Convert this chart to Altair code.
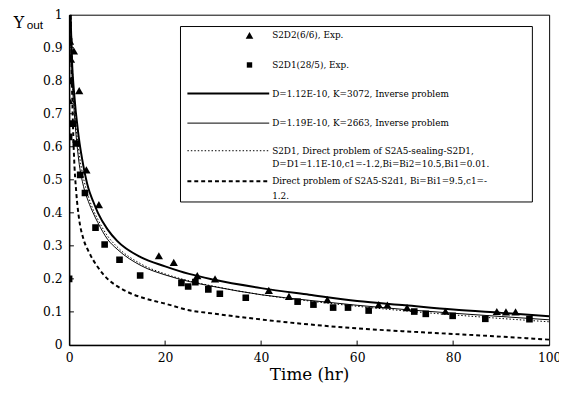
import altair as alt
import pandas as pd

# ---------------- data ----------------
tri_x = [0.0, 0.0, 0.4, 1.0, 0.2, 2.1, 3.6, 6.2, 18.7, 21.8, 26.7, 30.4, 41.6, 45.8,
         53.8, 64.5, 66.3, 70.4, 78.4, 89.1, 91.0, 93.0]
tri_y = [0.74, 0.80, 0.865, 0.89, 0.92, 0.77, 0.53, 0.425, 0.27, 0.25, 0.21, 0.20, 0.165,
         0.147, 0.137, 0.122, 0.121, 0.113, 0.102, 0.101, 0.10, 0.10]

sq_x = [0.0, 0.0, 0.0, 0.0, 0.0, 0.8, 1.4, 2.3, 3.3, 5.5, 7.4, 10.5, 14.8, 23.4, 24.8,
        26.3, 29.0, 31.4, 36.8, 47.6, 50.9, 55.0, 58.1, 62.4, 71.9, 74.3, 79.9, 86.7, 95.9]
sq_y = [0.20, 0.63, 0.80, 0.87, 0.92, 0.67, 0.61, 0.515, 0.46, 0.355, 0.304, 0.258, 0.21,
        0.188, 0.177, 0.19, 0.168, 0.155, 0.143, 0.131, 0.122, 0.113, 0.113, 0.104, 0.101,
        0.094, 0.088, 0.079, 0.078]

thick_x = [0.3, 0.6, 1, 2, 3, 4, 5, 6, 8, 10, 15, 20, 25, 30, 40, 50, 60, 70, 80, 90, 100]
thick_y = [1.0, 0.86, 0.77, 0.63, 0.54, 0.475, 0.435, 0.40, 0.35, 0.315, 0.265, 0.238,
           0.215, 0.198, 0.172, 0.152, 0.133, 0.12, 0.107, 0.097, 0.087]

thin_x = [0.3, 0.6, 1, 2, 3, 4, 5, 6, 8, 10, 15, 20, 25, 30, 40, 50, 60, 70, 80, 90, 100]
thin_y = [1.0, 0.82, 0.72, 0.56, 0.48, 0.435, 0.40, 0.37, 0.32, 0.29, 0.24, 0.212, 0.192,
          0.177, 0.152, 0.135, 0.12, 0.107, 0.096, 0.086, 0.076]

dot_x = [0.4, 0.7, 1, 2, 3, 4, 5, 6, 8, 10, 15, 20, 25, 30, 40, 50, 60, 70, 80, 90, 100]
dot_y = [1.0, 0.84, 0.75, 0.59, 0.505, 0.45, 0.41, 0.38, 0.33, 0.297, 0.245, 0.215, 0.194,
         0.178, 0.152, 0.133, 0.117, 0.103, 0.091, 0.08, 0.07]

dash_x = [0.3, 0.6, 1, 1.5, 2, 3, 4, 6, 8, 10, 13, 16, 20, 25, 30, 40, 50, 60, 70, 80, 90, 100]
dash_y = [1.0, 0.78, 0.58, 0.46, 0.39, 0.32, 0.285, 0.235, 0.20, 0.178, 0.155, 0.14, 0.125,
          0.105, 0.095, 0.077, 0.062, 0.05, 0.041, 0.033, 0.025, 0.016]

x_ticks = [0, 20, 40, 60, 80, 100]
y_ticks = [0, 0.1, 0.2, 0.3, 0.4, 0.5, 0.6, 0.7, 0.8, 0.9, 1]

legend_rows = [
    "S2D2(6/6), Exp.",
    "S2D1(28/5), Exp.",
    "D=1.12E-10, K=3072, Inverse problem",
    "D=1.19E-10, K=2663, Inverse problem",
    "S2D1, Direct problem of S2A5-sealing-S2D1,",
    "D=D1=1.1E-10,c1=-1.2,Bi=Bi2=10.5,Bi1=0.01.",
    "Direct problem of S2A5-S2d1, Bi=Bi1=9.5,c1=-",
    "1.2.",
]

# ---------------- styling ----------------
FONT = "DejaVu Serif"
W, H = 487, 335
xs = alt.Scale(domain=[0, 100], nice=False, zero=False)
ys = alt.Scale(domain=[0, 1], nice=False, zero=False)

xaxis = alt.Axis(values=x_ticks, ticks=False, grid=False, domainColor="black", domainWidth=1.5,
                 labelFont=FONT, labelFontSize=12.5, labelColor="black", labelPadding=7,
                 format="d", title="Time (hr)", titleFont=FONT, titleFontSize=17,
                 titleFontWeight="normal", titleColor="black", titlePadding=3,
                 labelFlush=False)
yaxis = alt.Axis(values=y_ticks, ticks=False, grid=False, domainColor="black", domainWidth=1.5,
                 labelFont=FONT, labelFontSize=12.5, labelColor="black", labelPadding=7,
                 format="~g", title=None, labelFlush=False)


def line_layer(xv, yv, width, dash=None):
    df = pd.DataFrame({"t": xv, "y": yv})
    kw = dict(color="black", strokeWidth=width, clip=True, interpolate="monotone")
    if dash:
        kw["strokeDash"] = dash
    return alt.Chart(df).mark_line(**kw).encode(
        x=alt.X("t:Q", scale=xs, axis=xaxis),
        y=alt.Y("y:Q", scale=ys, axis=yaxis),
    )


def point_layer(xv, yv, shape, size):
    df = pd.DataFrame({"t": xv, "y": yv})
    return alt.Chart(df).mark_point(shape=shape, filled=True, color="black", opacity=1,
                                    size=size, clip=True).encode(
        x=alt.X("t:Q", scale=xs, axis=xaxis),
        y=alt.Y("y:Q", scale=ys, axis=yaxis),
    )


# inside tick marks
xt = pd.DataFrame({"t": x_ticks[1:-1], "y": [0] * 4, "y2": [0.013] * 4})
xtick_layer = alt.Chart(xt).mark_rule(color="black", strokeWidth=1).encode(
    x=alt.X("t:Q", scale=xs, axis=xaxis), y=alt.Y("y:Q", scale=ys, axis=yaxis), y2="y2:Q")
yt = pd.DataFrame({"v": y_ticks[1:-1], "x": [0] * 9, "x2": [1.0] * 9})
ytick_layer = alt.Chart(yt).mark_rule(color="black", strokeWidth=1).encode(
    y=alt.Y("v:Q", scale=ys, axis=yaxis), x=alt.X("x:Q", scale=xs, axis=xaxis), x2="x2:Q")

# ---------------- legend (pixel layout inside the plot) ----------------
one = alt.Data(values=[{"a": 1}])
lg_box = alt.Chart(one).mark_rect(fill="white", stroke="black", strokeWidth=1).encode(
    x=alt.value(113), x2=alt.value(470), y=alt.value(12), y2=alt.value(190))

row_y = [21, 51, 80, 110, 138, 152, 169, 184]
lg_text = alt.Chart(pd.DataFrame({"label": legend_rows, "py": row_y, "px": [206] * 8})).mark_text(
    align="left", baseline="middle", font=FONT, fontSize=9, color="black").encode(
    x=alt.X("px:Q", scale=None), y=alt.Y("py:Q", scale=None), text="label:N")

lg_tri = alt.Chart(one).mark_point(shape="triangle-up", filled=True, color="black", opacity=1,
                                   size=60).encode(x=alt.value(183), y=alt.value(21))
lg_sq = alt.Chart(one).mark_point(shape="square", filled=True, color="black", opacity=1,
                                  size=30).encode(x=alt.value(183), y=alt.value(51))


def lg_line(yv, width, dash=None):
    kw = dict(color="black", strokeWidth=width)
    if dash:
        kw["strokeDash"] = dash
    return alt.Chart(one).mark_rule(**kw).encode(
        x=alt.value(120), x2=alt.value(203), y=alt.value(yv))


# y-axis title  "Υ" with subscript "out"
ytitle_main = alt.Chart(one).mark_text(align="center", baseline="middle", font=FONT,
                                       fontSize=16, color="black", text="\u03a5").encode(
    x=alt.value(-51), y=alt.value(8))
ytitle_sub = alt.Chart(one).mark_text(align="left", baseline="middle", font="Liberation Sans",
                                      fontSize=12, color="black", text="out").encode(
    x=alt.value(-43), y=alt.value(11))

chart = alt.layer(
    line_layer(dash_x, dash_y, 2, [4, 3]),
    line_layer(dot_x, dot_y, 1, [1.5, 2]),
    line_layer(thin_x, thin_y, 1),
    line_layer(thick_x, thick_y, 2),
    point_layer(tri_x, tri_y, "triangle-up", 70),
    point_layer(sq_x, sq_y, "square", 45),
    xtick_layer, ytick_layer,
    lg_box, lg_text, lg_tri, lg_sq,
    lg_line(80, 2), lg_line(110, 1), lg_line(138, 1, [1.5, 2]), lg_line(169, 2, [4, 3]),
    ytitle_main, ytitle_sub,
).properties(
    width=W, height=H,
    autosize=alt.AutoSizeParams(type="none"),
    padding={"left": 62, "top": 4, "right": 10, "bottom": 46},
    background="white",
).configure_view(stroke="black", strokeWidth=1)

chart.save("out.html", embed_options={"renderer": "svg", "actions": False})
